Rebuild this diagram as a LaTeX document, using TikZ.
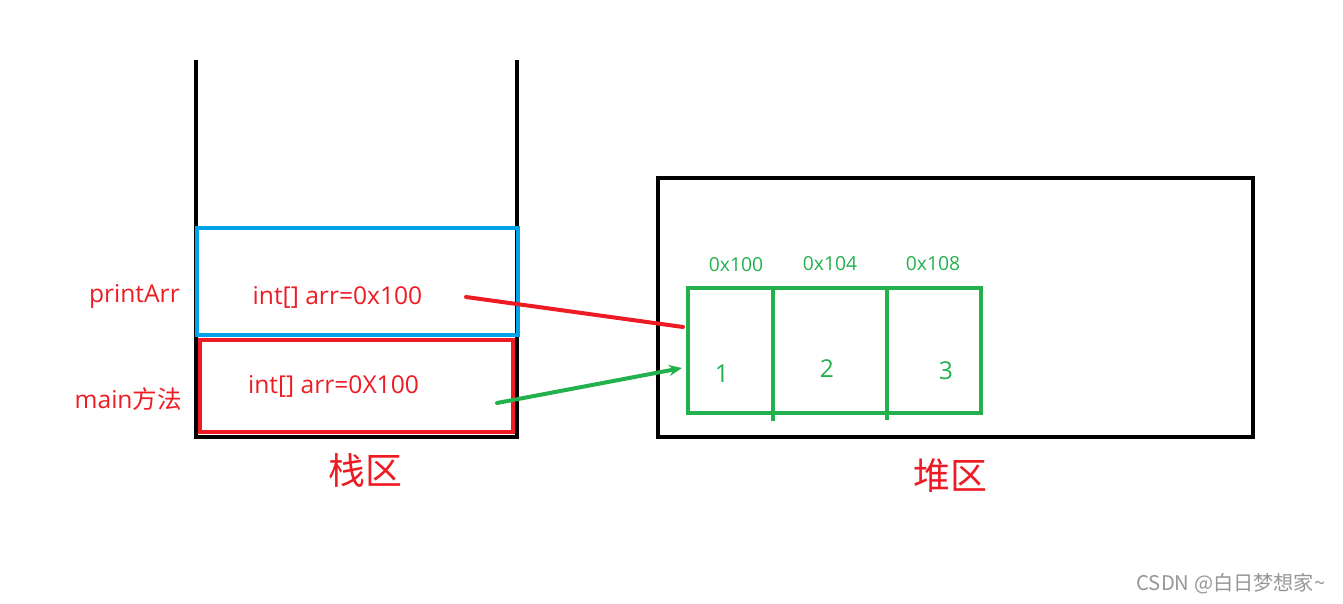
\documentclass[tikz,border=0pt]{standalone}
\usepackage{fontspec}
\setmainfont{Open Sans}
\newfontfamily\cjk{Noto Sans CJK SC}
\usetikzlibrary{positioning, arrows.meta}
\definecolor{memred}{RGB}{237,28,36}
\definecolor{memblue}{RGB}{0,162,232}
\definecolor{memgreen}{RGB}{34,177,76}
\definecolor{markgray}{RGB}{150,150,150}

\begin{document}
\begin{tikzpicture}[
    x=0.02cm, y=-0.02cm,
    wall/.style={line width=0.08cm, line cap=rect},
    frame/.style={draw, line width=0.08cm, outer sep=0pt, inner sep=0pt},
    cell/.style={frame, draw=memgreen, minimum height=2.5cm},
    vartext/.style={text=memred, font=\fontsize{14}{16}\selectfont},
    addr/.style={text=memgreen, font=\fontsize{11}{13}\selectfont},
    title/.style={text=memred, font=\cjk\fontsize{21}{24}\selectfont},
    link/.style={line width=0.08cm, line cap=round},
  ]
    \useasboundingbox (0,0) rectangle (1343,604);

    % stack
    \draw[wall] (196,62) -- (196,437) -- (517,437) -- (517,62);
    \node[frame, draw=memblue, minimum width=6.42cm, minimum height=2.14cm] (pa) at (357.5,281.5) {};
    \node[frame, draw=memred, line width=0.09cm, minimum width=6.26cm, minimum height=1.84cm] (mn) at (356.5,386) {};
    \node[vartext] (pav) at (337.5,297) {int[] arr=0x100};
    \node[vartext] (mnv) at (333.5,386) {int[] arr=0X100};
    \node[vartext, anchor=east] (pal) at (186,296) {printArr};
    \node[vartext, anchor=east] (mnl) at (188,399) {main{\cjk 方法}};
    \node[title] (stk) at (365,470) {栈区};

    % heap
    \node[frame, minimum width=11.9cm, minimum height=5.18cm] (heap) at (955.5,307.5) {};
    \node[cell, minimum width=1.7cm] (c1) at (730.5,350.5) {};
    \node[cell, minimum width=2.28cm, right=0pt of c1] (c2) {};
    \node[cell, minimum width=1.88cm, right=0pt of c2] (c3) {};
    \draw[memgreen, line width=0.08cm] (c1.south east) -- ++(0,8);
    \draw[memgreen, line width=0.08cm] (c2.south east) -- ++(0,7);
    \node[addr] (a1) at (736,265) {0x100};
    \node[addr] (a2) at (830,264) {0x104};
    \node[addr] (a3) at (933,264) {0x108};
    \node[vartext, text=memgreen] (v1) at (722,374) {1};
    \node[vartext, text=memgreen] (v2) at (827,369) {2};
    \node[vartext, text=memgreen] (v3) at (946,371) {3};
    \node[title] (hp) at (950,476) {堆区};

    % references
    \coordinate (r0) at (466,297);
    \coordinate (r1) at (683,327);
    \coordinate (g0) at (497,403);
    \coordinate (g1) at (682,368);
    \draw[link, memred] (r0) -- (r1);
    \draw[link, memgreen, -{Stealth[length=2.6mm, width=2.2mm]}] (g0) -- (g1);

    \node[text=markgray, font=\cjk\fontsize{11.5}{13}\selectfont] (mark) at (1231,584) {CSDN @白日梦想家\textasciitilde};
  \end{tikzpicture}
\end{document}
